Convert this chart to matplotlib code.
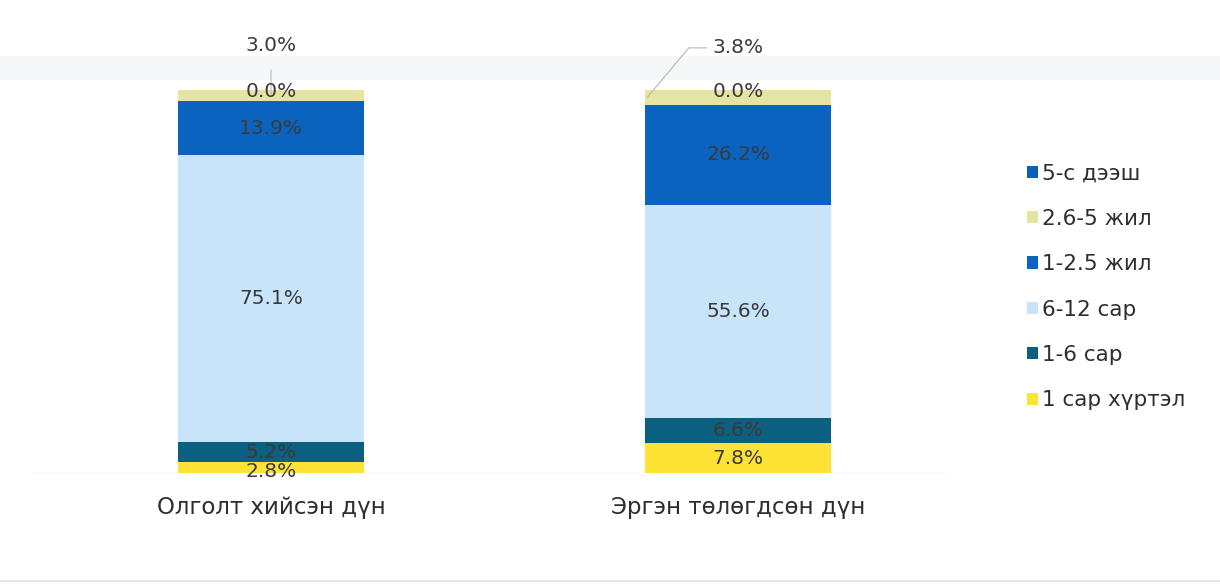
import matplotlib
matplotlib.use("Agg")
import matplotlib.pyplot as plt
from matplotlib.patches import Patch, Rectangle
import numpy as np

plt.rcParams['font.family'] = ['DejaVu Sans']

categories = ["Олголт хийсэн дүн", "Эргэн төлөгдсөн дүн"]
series_names = ["1 сар хүртэл", "1-6 сар", "6-12 сар", "1-2.5 жил", "2.6-5 жил", "5-с дээш"]
series_values = {
    "1 сар хүртэл": [2.8, 7.8],
    "1-6 сар": [5.2, 6.6],
    "6-12 сар": [75.1, 55.6],
    "1-2.5 жил": [13.9, 26.2],
    "2.6-5 жил": [3.0, 3.8],
    "5-с дээш": [0.0, 0.0],
}
series_colors = {
    "1 сар хүртэл": "#FFE236",
    "1-6 сар": "#0B5F7F",
    "6-12 сар": "#C8E4F8",
    "1-2.5 жил": "#0A64BF",
    "2.6-5 жил": "#E4E5A2",
    "5-с дээш": "#0A5FB9",
}

W, H = 1220, 588
fig = plt.figure(figsize=(W / 100, H / 100), dpi=100)
fig.patch.set_facecolor("white")

# faint band across the top of the sheet and a thin rule at the bottom
fig.add_artist(Rectangle((0, 1 - 80 / H), 1, 24 / H, transform=fig.transFigure,
                         facecolor="#F6F7F9", edgecolor="none", zorder=0))
fig.add_artist(Rectangle((0, 1 - 582 / H), 1, 2 / H, transform=fig.transFigure,
                         facecolor="#E6E8EB", edgecolor="none", zorder=0))

ax_left, ax_right = 0, 950
ax_bot, ax_top = 473, 90
ax = fig.add_axes([ax_left / W, (H - ax_bot) / H, (ax_right - ax_left) / W, (ax_bot - ax_top) / H])
ax.set_facecolor("none")
px_per_unit = 467.0
ax.set_xlim(-(271 - ax_left) / px_per_unit, (ax_right - 271) / px_per_unit)
ax.set_ylim(0, 100)
ax.axis("off")

x = np.arange(len(categories))
bar_w = 186 / px_per_unit
bottoms = np.zeros(len(categories))
text_col = "#3A3A3A"
lab_fs = 14.5

for name in series_names:
    vals = np.array(series_values[name])
    ax.bar(x, vals, bar_w, bottom=bottoms, color=series_colors[name], edgecolor="none", zorder=2)
    for i, v in enumerate(vals):
        if name == "2.6-5 жил":
            continue
        y = bottoms[i] + v / 2
        if name == "5-с дээш":
            y = bottoms[i] + v - 0.3
        elif v < 4:
            y = bottoms[i] + v / 2 - 0.9
        ax.text(x[i], y, f"{v:.1f}%", ha="center", va="center",
                fontsize=lab_fs, color=text_col, zorder=4)
    bottoms = bottoms + vals

# callout labels for the thin 2.6-5 жил segments
seg = series_values["2.6-5 жил"]
tops_before = np.array(series_values["1 сар хүртэл"]) + np.array(series_values["1-6 сар"]) + \
    np.array(series_values["6-12 сар"]) + np.array(series_values["1-2.5 жил"])
ax.annotate(f"{seg[0]:.1f}%", xy=(x[0], tops_before[0] + seg[0] / 2), xytext=(x[0], 111.7),
            ha="center", va="center", fontsize=lab_fs, color=text_col, annotation_clip=False,
            arrowprops=dict(arrowstyle="-", color="#B8B8B8", lw=0.8, shrinkA=9, shrinkB=0))
ax.annotate(f"{seg[1]:.1f}%", xy=(x[1] - bar_w / 2 + 0.005, tops_before[1] + seg[1] / 2),
            xytext=(x[1], 111.0), ha="center", va="center", fontsize=lab_fs, color=text_col,
            annotation_clip=False,
            arrowprops=dict(arrowstyle="-", color="#B8B8B8", lw=0.8, shrinkA=2, shrinkB=0,
                            connectionstyle="angle,angleA=0,angleB=50,rad=0",
                            relpos=(0.0, 0.5)))

ax.axhline(0, color="#E8EAEC", lw=1.0, zorder=1, xmin=0.03)

for i, c in enumerate(categories):
    ax.text(x[i], -9, c, ha="center", va="center", fontsize=16.5, color="#2E2E2E")

handles = [Patch(facecolor=series_colors[n], edgecolor="none", label=n) for n in reversed(series_names)]
fig.legend(handles=handles, loc="upper left", bbox_to_anchor=(1008 / W, 1 - 144 / H),
           frameon=False, fontsize=15.5, handlelength=0.5, handleheight=0.5,
           handletextpad=0.2, labelspacing=1.18, labelcolor="#2E2E2E")

fig.savefig("out.png", dpi=100, facecolor="white")
